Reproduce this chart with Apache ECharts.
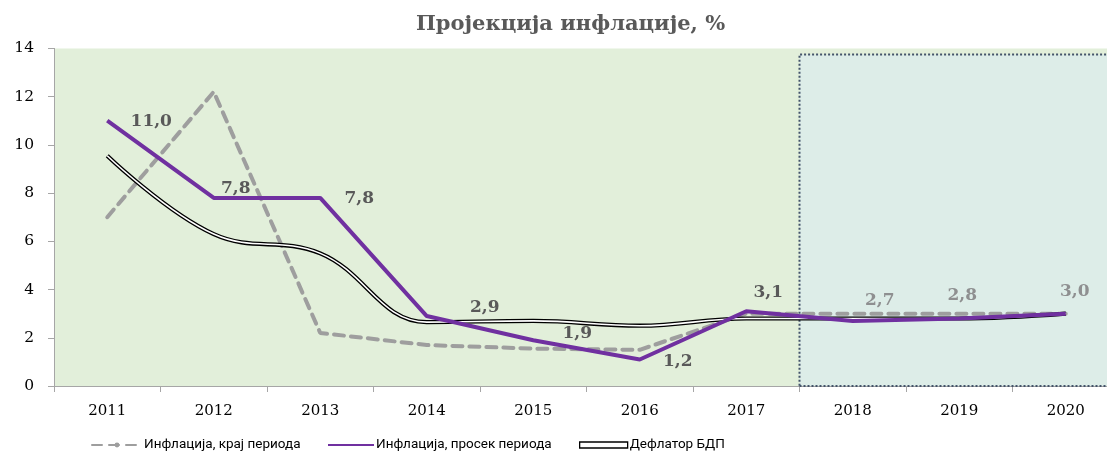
<!DOCTYPE html>
<html><head><meta charset="utf-8">
<script src="https://cdn.jsdelivr.net/npm/echarts@6/dist/echarts.min.js"></script>
<style>html,body{margin:0;padding:0;background:#fff;overflow:hidden}#c{width:1119px;height:457px}</style>
</head><body><div id="c"></div>
<script>
const categories = ['2011','2012','2013','2014','2015','2016','2017','2018','2019','2020'];
const inflEnd = [7.0, 12.2, 2.2, 1.7, 1.55, 1.5, 3.0, 3.0, 3.0, 3.0];
const inflAvg = [11.0, 7.8, 7.8, 2.9, 1.9, 1.1, 3.1, 2.7, 2.8, 3.0];
const avgLabels = ['11,0','7,8','7,8','2,9','1,9','1,2','3,1','2,7','2,8','3,0'];
const deflator = [9.55, 6.3, 5.5, 2.65, 2.7, 2.5, 2.8, 2.8, 2.8, 3.0];
const yTicks = [0, 2, 4, 6, 8, 10, 12, 14];
const seriesNames = ['Инфлација, крај периода', 'Инфлација, просек периода', 'Дефлатор БДП'];
const forecastStart = 6.5; // boundary between 2017 and 2018 (category index)

const labelOffsets = [[44,1],[22,-9],[39,1],[58,-8],[44,-7],[38,2],[22,-19],[27,-20],[3,-23],[9,-22]];

const serif = '"DejaVu Serif", "Liberation Serif", serif';
const legendFont = {fontFamily: 'Roboto, "Liberation Sans", sans-serif', fontSize: 13.5, color: '#000', padding: [0,0,0,-3]};
const mkLegend = (name, left, w, extra) => Object.assign({
  left: left, top: 433, itemWidth: w, itemHeight: 6, itemGap: 0,
  textStyle: legendFont, data: [name]
}, extra || {});

const chart = echarts.init(document.getElementById('c'));
chart.setOption({
  animation: false,
  title: {
    text: 'Пројекција инфлације, %',
    left: 411, top: 9,
    textStyle: {fontFamily: serif, fontWeight: 'bold', fontSize: 21, color: '#595959'}
  },
  legend: [
    mkLegend(seriesNames[0], 86, 50),
    mkLegend(seriesNames[1], 322, 46),
    mkLegend(seriesNames[2], 574, 48, {data: [{name: seriesNames[2], icon: 'rect', itemStyle: {color: '#fff', borderColor: '#000', borderWidth: 1.3}}]})
  ],
  grid: {left: 54, top: 48.4, right: 0, height: 337.6, show: true, backgroundColor: '#e2efda', borderWidth: 0},
  xAxis: [{
    type: 'category', data: categories, boundaryGap: true,
    axisLine: {lineStyle: {color: '#a6a6a6', width: 1}},
    axisTick: {show: true, length: 6, lineStyle: {color: '#a6a6a6'}},
    axisLabel: {fontFamily: serif, fontSize: 15, color: '#000', margin: 18}
  }, {
    type: 'value', min: -0.5, max: 9.5, show: false
  }],
  yAxis: {
    type: 'value', min: yTicks[0], max: yTicks[yTicks.length-1], interval: 2,
    axisLine: {show: true, onZero: false, lineStyle: {color: '#a6a6a6', width: 1}},
    axisTick: {show: true, length: 6, lineStyle: {color: '#a6a6a6'}},
    splitLine: {show: false},
    axisLabel: {fontFamily: serif, fontSize: 15.5, color: '#000', margin: 20}
  },
  series: [
    {
      name: seriesNames[0], type: 'line', data: inflEnd, symbol: 'none', z: 2,
      lineStyle: {color: '#9e9e9e', width: 4, type: [10, 7], cap: 'round'},
      itemStyle: {color: '#9e9e9e'}
    },
    {
      name: seriesNames[2], type: 'line', data: deflator, symbol: 'none', smooth: 0.4, z: 3,
      lineStyle: {color: '#000', width: 4.2},
      itemStyle: {color: '#000'}
    },
    {
      name: '_deflInner', type: 'line', data: deflator, symbol: 'none', smooth: 0.4, z: 3,
      lineStyle: {color: '#fff', width: 1.6}
    },
    {
      name: seriesNames[1], type: 'line', z: 4,
      data: inflAvg.map((v, i) => ({
        value: v,
        label: {offset: labelOffsets[i], formatter: avgLabels[i], color: i > forecastStart ? '#8e8f90' : '#595959'}
      })),
      symbol: 'circle', symbolSize: 1, showSymbol: true,
      lineStyle: {color: '#7030a0', width: 4},
      itemStyle: {color: 'rgba(0,0,0,0)'},
      label: {show: true, position: 'inside', fontFamily: serif, fontWeight: 'bold', fontSize: 17}
    },
    {
      name: '_forecast', type: 'line', xAxisIndex: 1, data: [], z: 10,
      markArea: {
        silent: true,
        itemStyle: {color: 'rgba(215,236,245,0.5)', borderColor: '#44546a', borderWidth: 2, borderType: [2, 2]},
        data: [[{coord: [forecastStart, 0]}, {coord: [9.7, 13.75]}]]
      }
    }
  ]
});
</script></body></html>
